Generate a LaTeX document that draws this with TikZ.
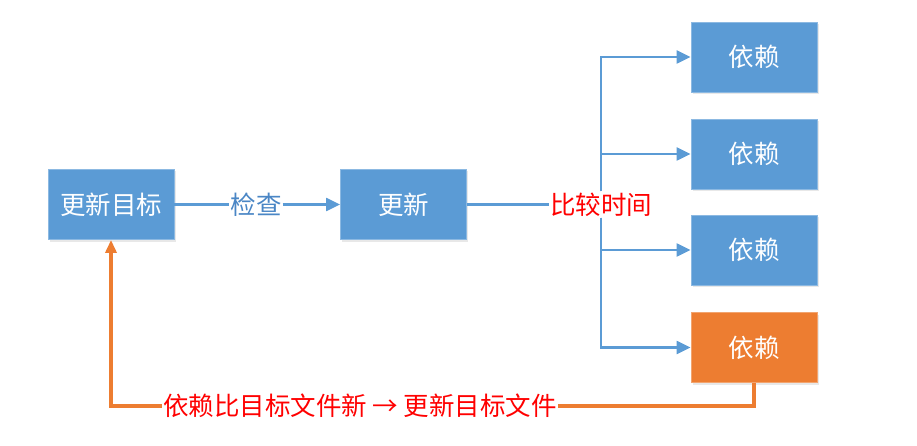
\documentclass[tikz,border=0pt]{standalone}
\usepackage{fontspec}
\setmainfont{Noto Sans CJK SC}
\usetikzlibrary{arrows.meta,shadows}
\definecolor{boxblue}{HTML}{5B9BD5}
\definecolor{boxorange}{HTML}{ED7D31}
\definecolor{txtred}{HTML}{FF0000}
\definecolor{lblblue}{HTML}{4A86C5}
\begin{document}
\begin{tikzpicture}[x=1pt,y=-1pt,
  box/.style={draw=boxblue!70!white,line width=0.8pt,fill=boxblue,text=white,minimum width=126pt,minimum height=70pt,inner sep=0pt,font=\fontsize{25.5}{30}\selectfont,drop shadow={shadow xshift=1.5pt,shadow yshift=-2pt,opacity=0.18}},
  obox/.style={box,draw=boxorange!70!white,fill=boxorange},
  lbl/.style={inner sep=1pt,font=\fontsize{25.5}{30}\selectfont},
  bline/.style={draw=boxblue,line width=2.2pt},
  barrow/.style={bline,-{Triangle[length=14pt,width=13pt]}},
  oline/.style={draw=boxorange,line width=3.4pt},
  oarrow/.style={oline,-{Triangle[length=13pt,width=11pt]}}]
\useasboundingbox (0,0) rectangle (917,446);
\node[box] (t1) at (111,204.5) {更新目标};
\node[box] (t2) at (403.5,204.5) {更新};
\node[box] (d1) at (754,57) {依赖};
\node[box] (d2) at (754,154) {依赖};
\node[box] (d3) at (754,250) {依赖};
\node[obox] (d4) at (754,347.5) {依赖};
\node[lbl,text=lblblue] (chk) at (256,204.5) {检查};
\node[lbl,text=txtred] (cmp) at (601,204.5) {比较时间};
\node[lbl,text=txtred] (bot) at (360,406) {依赖比目标文件新 → 更新目标文件};
\draw[bline] (t1.east) -- (chk.west);
\draw[barrow] (chk.east) -- (t2.west);
\draw[bline,line width=3pt] (t2.east) -- (cmp.west);
\draw[barrow] (cmp.north) |- (d1.west);
\draw[barrow] (cmp.north) |- (d2.west);
\draw[barrow] (cmp.south) |- (d3.west);
\draw[barrow] (cmp.south) |- (d4.west);
\draw[oline] (d4.south) |- (bot.east);
\draw[oarrow] (bot.west) -| (t1.south);
\end{tikzpicture}
\end{document}
